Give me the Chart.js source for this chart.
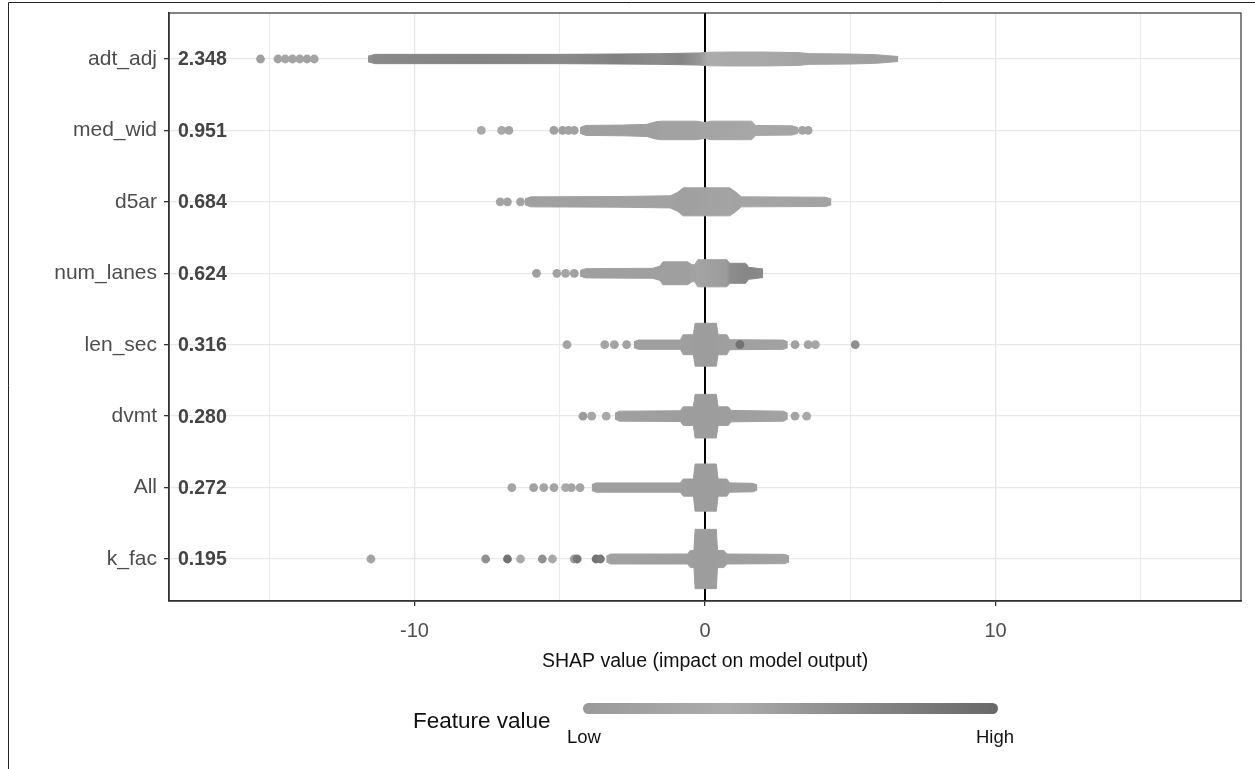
<!DOCTYPE html>
<html>
<head>
<meta charset="utf-8">
<script src="https://cdn.jsdelivr.net/npm/chart.js@4.4.1/dist/chart.umd.min.js"></script>
<style>
  html, body { margin: 0; padding: 0; background: #fff; }
  #wrap { width: 1255px; height: 769px; position: relative; }
</style>
</head>
<body>
<div id="wrap"><canvas id="shapChart" width="1255" height="769"></canvas></div>
<script>
// features, top to bottom, with mean |SHAP|
const features = ['adt_adj', 'med_wid', 'd5ar', 'num_lanes', 'len_sec', 'dvmt', 'All', 'k_fac'];
const meanAbsShap = ['2.348', '0.951', '0.684', '0.624', '0.316', '0.280', '0.272', '0.195'];
const xTicks = [-10, 0, 10];

// dense part of each swarm: SHAP knots, half spread (row units), mean feature value (0 low .. 1 high)
const bandShap = [
  [-11.6, -11.35, -8, -5, -3, -1.6, -0.8, -0.2, 0.1, 1, 2, 3.2, 3.6, 5, 5.9, 6.65],
  [-4.3, -4.1, -2.8, -2.0, -1.7, -1.5, -0.3, 0, 0.2, 1.6, 1.75, 3.0, 3.2],
  [-6.2, -6.0, -3, -1.2, -0.95, -0.75, 0.85, 1.05, 1.25, 4.15, 4.35],
  [-4.3, -4.1, -1.8, -1.55, -1.45, -0.6, -0.45, -0.35, -0.25, 0.75, 0.85, 1.4, 1.5, 2.0],
  [-2.45, -2.3, -0.85, -0.75, -0.4, -0.34, 0.39, 0.45, 0.75, 0.85, 2.7, 2.85],
  [-3.1, -2.95, -0.85, -0.75, -0.4, -0.34, 0.39, 0.45, 0.8, 0.9, 2.7, 2.85],
  [-3.9, -3.75, -0.85, -0.75, -0.4, -0.34, 0.39, 0.45, 0.75, 0.85, 1.65, 1.8],
  [-3.4, -3.25, -0.6, -0.5, -0.38, -0.34, 0.39, 0.43, 0.65, 0.75, 2.75, 2.9]
];
const bandSpread = [
  [0.04, 0.065, 0.065, 0.065, 0.07, 0.075, 0.08, 0.085, 0.095, 0.098, 0.098, 0.09, 0.075, 0.07, 0.06, 0.035],
  [0.04, 0.07, 0.075, 0.085, 0.12, 0.13, 0.13, 0.11, 0.13, 0.13, 0.07, 0.065, 0.04],
  [0.04, 0.07, 0.075, 0.085, 0.13, 0.196, 0.196, 0.14, 0.07, 0.065, 0.04],
  [0.04, 0.065, 0.07, 0.1, 0.16, 0.16, 0.12, 0.12, 0.19, 0.19, 0.14, 0.14, 0.085, 0.06],
  [0.04, 0.065, 0.065, 0.14, 0.14, 0.3, 0.3, 0.14, 0.14, 0.07, 0.065, 0.04],
  [0.04, 0.07, 0.075, 0.13, 0.13, 0.305, 0.305, 0.13, 0.13, 0.08, 0.07, 0.04],
  [0.04, 0.065, 0.065, 0.12, 0.12, 0.33, 0.33, 0.12, 0.12, 0.065, 0.06, 0.035],
  [0.04, 0.07, 0.07, 0.12, 0.12, 0.415, 0.415, 0.12, 0.12, 0.07, 0.065, 0.04]
];
const bandTone = [
  [0.6, 0.66, 0.72, 0.66, 0.74, 0.64, 0.7, 0.55, 0.35, 0.3, 0.3, 0.2, 0.15, 0.15, 0.1, 0.1],
  [0.05, 0.1, 0.1, 0.1, 0.1, 0.15, 0.15, 0.2, 0.2, 0.25, 0.25, 0.2, 0.2],
  [0.1, 0.1, 0.15, 0.15, 0.1, 0.1, 0.2, 0.45, 0.2, 0.15, 0.15],
  [0.1, 0.1, 0.1, 0.1, 0.1, 0.1, 0.15, 0.15, 0.2, 0.5, 0.62, 0.68, 0.68, 0.65],
  [0.1, 0.1, 0.1, 0.1, 0.08, 0.06, 0.06, 0.08, 0.1, 0.1, 0.15, 0.15],
  [0.1, 0.1, 0.08, 0.08, 0.06, 0.06, 0.06, 0.06, 0.08, 0.1, 0.15, 0.15],
  [0.1, 0.1, 0.08, 0.08, 0.06, 0.06, 0.06, 0.06, 0.08, 0.1, 0.1, 0.1],
  [0.2, 0.15, 0.1, 0.08, 0.06, 0.06, 0.06, 0.06, 0.08, 0.1, 0.15, 0.15]
];

// sparse tail points
const dotShap = [
  [-15.3, -14.7, -14.45, -14.2, -13.95, -13.7, -13.45],
  [-7.7, -7.0, -6.75, -5.2, -4.9, -4.7, -4.5, 3.35, 3.55],
  [-7.05, -6.8, -6.35],
  [-5.8, -5.1, -4.8, -4.5],
  [-4.75, -3.45, -3.12, -2.7, 1.2, 3.1, 3.55, 3.8, 5.17],
  [-4.2, -3.9, -3.4, 3.1, 3.5],
  [-6.65, -5.9, -5.55, -5.2, -4.8, -4.6, -4.3],
  [-11.5, -7.55, -6.8, -6.35, -5.6, -5.25, -4.5, -4.4, -3.75, -3.6]
];
const dotTone = [
  [0.1, 0.15, 0.2, 0.15, 0.2, 0.15, 0.2],
  [0.3, 0.3, 0.2, 0.1, 0.1, 0.15, 0.15, 0.2, 0.2],
  [0.2, 0.15, 0.2],
  [0.1, 0.15, 0.2, 0.15],
  [0.2, 0.2, 0.2, 0.15, 0.9, 0.15, 0.2, 0.25, 0.6],
  [0.5, 0.4, 0.3, 0.2, 0.3],
  [0.2, 0.15, 0.2, 0.2, 0.3, 0.2, 0.2],
  [0.2, 0.6, 0.9, 0.3, 0.6, 0.3, 0.5, 0.85, 0.9, 0.85]
];

const FONT = '"Liberation Sans", Arial, sans-serif';
const Y_MIN = 0.412, Y_MAX = 8.644;

// grey ramp of the feature value colour scale
const rampStops = [[0, 154], [0.35, 172], [0.65, 138], [1, 104]];
function toneColor(t) {
  for (let k = 1; k < rampStops.length; k++) {
    const [t0, g0] = rampStops[k - 1], [t1, g1] = rampStops[k];
    if (t <= t1) {
      const g = Math.round(g0 + (g1 - g0) * (t - t0) / (t1 - t0));
      return `rgb(${g},${g},${g})`;
    }
  }
  return 'rgb(104,104,104)';
}

function bandFill(chart, i) {
  const xs = chart.scales.x;
  if (!chart.chartArea || !xs) return toneColor(0.1);
  const knots = bandShap[i];
  const x0 = xs.getPixelForValue(knots[0]);
  const x1 = xs.getPixelForValue(knots[knots.length - 1]);
  const g = chart.ctx.createLinearGradient(x0, 0, x1, 0);
  knots.forEach((v, k) => {
    const p = (xs.getPixelForValue(v) - x0) / (x1 - x0);
    g.addColorStop(Math.min(1, Math.max(0, p)), toneColor(bandTone[i][k]));
  });
  return g;
}

const datasets = [];
features.forEach((name, i) => {
  const row = features.length - i;
  const fillFn = ctx => bandFill(ctx.chart, i);
  datasets.push({
    type: 'line', label: name,
    data: bandShap[i].map((x, k) => ({ x, y: row + bandSpread[i][k] })),
    fill: '+1', backgroundColor: fillFn, borderColor: fillFn,
    borderWidth: 1, borderJoinStyle: 'round', pointRadius: 0, tension: 0, order: 2
  });
  datasets.push({
    type: 'line', label: name + ' low',
    data: bandShap[i].map((x, k) => ({ x, y: row - bandSpread[i][k] })),
    fill: false, borderColor: fillFn,
    borderWidth: 1, borderJoinStyle: 'round', pointRadius: 0, tension: 0, order: 2
  });
  datasets.push({
    type: 'scatter', label: name + ' tail',
    data: dotShap[i].map(x => ({ x, y: row })),
    backgroundColor: dotTone[i].map(toneColor),
    pointRadius: 4.4, pointBorderWidth: 0, order: 1
  });
});
// zero line
datasets.push({
  type: 'line', label: 'zero',
  data: [{ x: 0, y: Y_MIN }, { x: 0, y: Y_MAX }],
  borderColor: '#000', borderWidth: 2, pointRadius: 0, fill: false, order: 9
});

const decorations = {
  id: 'decorations',
  afterDatasetsDraw(chart) {
    const { ctx, chartArea: a, scales: { y } } = chart;
    ctx.save();
    ctx.font = `bold 19.5px ${FONT}`;
    ctx.fillStyle = '#444';
    ctx.textAlign = 'left';
    ctx.textBaseline = 'middle';
    meanAbsShap.forEach((v, i) => {
      ctx.fillText(v, a.left + 9, y.getPixelForValue(features.length - i) + 1);
    });
    ctx.restore();
  },
  afterDraw(chart) {
    const { ctx, chartArea: a, scales: { x } } = chart;
    ctx.save();
    // panel frame
    ctx.strokeStyle = '#333';
    ctx.lineWidth = 1.2;
    ctx.strokeRect(a.left, a.top, a.right - a.left, a.bottom - a.top);

    // axis title
    ctx.fillStyle = '#111';
    ctx.textAlign = 'center';
    ctx.textBaseline = 'middle';
    ctx.font = `19.5px ${FONT}`;
    ctx.fillText('SHAP value (impact on model output)', x.getPixelForValue(0), 662);

    // colour legend
    ctx.textAlign = 'left';
    ctx.font = `22.5px ${FONT}`;
    ctx.fillText('Feature value', 413, 722);
    const bx0 = 583, bx1 = 998, by = 703, bh = 11;
    const g = ctx.createLinearGradient(bx0, 0, bx1, 0);
    rampStops.forEach(([t]) => g.addColorStop(t, toneColor(t)));
    ctx.fillStyle = g;
    ctx.beginPath();
    ctx.roundRect(bx0, by, bx1 - bx0, bh, bh / 2);
    ctx.fill();
    ctx.fillStyle = '#111';
    ctx.font = `18.5px ${FONT}`;
    ctx.fillText('Low', 567, 738);
    ctx.textAlign = 'right';
    ctx.fillText('High', 1014, 738);

    // outer figure frame (top and left)
    ctx.strokeStyle = '#222';
    ctx.lineWidth = 1;
    ctx.beginPath();
    ctx.moveTo(8.5, 769);
    ctx.lineTo(8.5, 2.5);
    ctx.lineTo(1255, 2.5);
    ctx.stroke();
    ctx.restore();
  }
};

Chart.defaults.font.family = FONT;

new Chart(document.getElementById('shapChart'), {
  type: 'scatter',
  data: { datasets },
  options: {
    responsive: false,
    animation: false,
    devicePixelRatio: 1,
    layout: { padding: { top: 13, right: 14, left: 0, bottom: 0 } },
    plugins: { legend: { display: false }, tooltip: { enabled: false } },
    scales: {
      x: {
        type: 'linear', min: -18.45, max: 18.45,
        afterBuildTicks: s => { s.ticks = [-15, -10, -5, 0, 5, 10, 15].map(v => ({ value: v })); },
        afterFit: s => { s.height = 168; s.paddingLeft = 0; s.paddingRight = 0; },
        grid: {
          color: c => (c.tick && c.tick.value % 10 === 0) ? '#e6e6e6' : '#ebebeb',
          lineWidth: c => (c.tick && c.tick.value % 10 === 0) ? 1.3 : 1,
          tickLength: 5,
          tickColor: c => (c.tick && c.tick.value % 10 === 0) ? '#333' : 'rgba(0,0,0,0)'
        },
        border: { color: '#333', width: 1.5 },
        ticks: {
          autoSkip: false, maxRotation: 0, padding: 13,
          color: '#4d4d4d', font: { size: 20 },
          callback: v => xTicks.includes(v) ? String(v) : ''
        }
      },
      y: {
        type: 'linear', min: Y_MIN, max: Y_MAX,
        afterBuildTicks: s => { s.ticks = features.map((_, i) => ({ value: features.length - i })); },
        afterFit: s => { s.width = 169; s.paddingTop = 0; s.paddingBottom = 0; },
        grid: { color: '#e8e8e8', lineWidth: 1.3, tickLength: 5, tickColor: '#333' },
        border: { color: '#333', width: 1.5 },
        ticks: {
          autoSkip: false, padding: 7,
          color: '#4d4d4d', font: { size: 21 },
          callback: v => features[features.length - v]
        }
      }
    }
  },
  plugins: [decorations]
});
</script>
</body>
</html>
